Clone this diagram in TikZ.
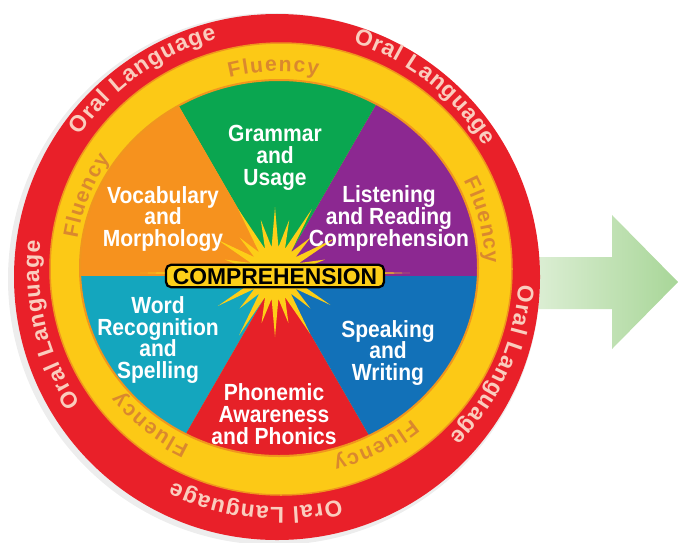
\documentclass[tikz,border=0pt]{standalone}
\usepackage{fontspec}
\setmainfont{Liberation Sans}
\newfontfamily\narrowsans{Liberation Sans}[FakeStretch=0.9]
\usetikzlibrary{decorations.text}

\definecolor{ringred}{RGB}{233,32,41}
\definecolor{ringyellow}{RGB}{252,201,22}
\definecolor{rimorange}{RGB}{240,150,30}
\definecolor{oralpink}{RGB}{250,205,190}
\definecolor{fluencytan}{RGB}{218,136,46}
\definecolor{segpurple}{RGB}{140,40,145}
\definecolor{seggreen}{RGB}{10,166,80}
\definecolor{segorange}{RGB}{246,146,30}
\definecolor{segteal}{RGB}{20,166,190}
\definecolor{segred}{RGB}{230,33,40}
\definecolor{segblue}{RGB}{18,113,184}
\definecolor{burst}{RGB}{253,206,24}
\definecolor{arrowpale}{RGB}{222,239,214}
\definecolor{arrowgreen}{RGB}{168,214,152}

\newcommand\oraltext[1]{\path[decorate, decoration={text along path, text align=fit to path, text color=oralpink, text={|\bfseries\fontsize{13}{13}\selectfont|Oral Language}}] ([shift={(#1+20.5:240 and 238)}]ringmid) arc[start angle=#1+20.5, end angle=#1-20.5, x radius=240, y radius=238];}
\newcommand\fluencytext[1]{\path[decorate, decoration={text along path, text align=fit to path, text color=fluencytan, text={|\bfseries\fontsize{12}{12}\selectfont|Fluency}}] ([shift={(#1+12.5:205 and 197)}]fluencymid) arc[start angle=#1+12.5, end angle=#1-12.5, x radius=205, y radius=197];}

\begin{document}
\begin{tikzpicture}[x=0.02cm, y=0.02cm,
    seglabel/.style={text=white, align=center, inner sep=0pt, font=\narrowsans\bfseries\fontsize{13.3}{12.5}\selectfont},
    corebox/.style={fill=burst, draw=black, line width=1.3pt, rounded corners=3pt, minimum width=4.36cm, minimum height=0.45cm, inner sep=0pt, text height=9.3pt, text depth=0pt, font=\bfseries\fontsize{13}{13}\selectfont}]
		%%%%% START %%%%%
		\useasboundingbox (0,0) rectangle (678,542);
		
		\coordinate (hub) at (277,266);
		\coordinate (ringmid) at (279,273);
		\coordinate (fluencymid) at (280,273.5);
		\coordinate (burstc) at (275,269);
		
		% arrow behind the wheel
		\shade[left color=arrowpale, right color=arrowgreen] (530,285) -- (612,285) -- (612,327) -- (678,260) -- (612,193) -- (612,233) -- (530,233) -- cycle;
		
		% rings
		\fill[black!7] (274,263) circle (266);
		\fill[ringred] (277,265) circle (263);
		\draw[fill=ringyellow, draw=rimorange, line width=0.3mm] (281,273) ellipse [x radius=231, y radius=226];
		
		% six segments
		\begin{scope}
			\clip (279,274) ellipse [x radius=199, y radius=188];
			\foreach \a/\c in {0/segpurple, 60/seggreen, 120/segorange, 180/segteal, 240/segred, 300/segblue}
				\fill[\c] (hub) -- +(\a:400) -- +(\a+60:400) -- cycle;
		\end{scope}
		\draw[rimorange, line width=0.4mm] (279,274) ellipse [x radius=199, y radius=188];
		
		% burst
		\fill[burst, shift={(burstc)}] (0:135) \foreach \a/\r in {15/52, 30/70, 45/50, 60/74, 75/55, 90/66, 105/55, 120/74, 135/50, 150/66, 165/52, 180/135, 195/52, 210/66, 225/50, 240/72, 255/52, 270/64, 285/52, 300/70, 315/50, 330/64, 345/52} { -- (\a-7.5:26) -- (\a:\r) } -- (352.5:26) -- cycle;
		
		\node[corebox] (core) at (275,266) {COMPREHENSION};
		
		\node[seglabel] (grammar) at (275,384) {Grammar\\and\\Usage};
		\node[seglabel] (vocab) at (163,323) {Vocabulary\\and\\Morphology};
		\node[seglabel] (listen) at (389,324) {Listening\\and Reading\\Comprehension};
		\node[seglabel] (word) at (158,202) {Word\\Recognition\\and\\Spelling};
		\node[seglabel] (speak) at (388,189) {Speaking\\and\\Writing};
		\node[seglabel] (phonemic) at (274,128) {Phonemic\\Awareness\\and Phonics};
		
		% ring texts
		\oraltext{125.5}
		\oraltext{51.5}
		\oraltext{-24.3}
		\oraltext{-95.7}
		\oraltext{-166.2}
		
		\fluencytext{91.8}
		\fluencytext{14}
		\fluencytext{-62.5}
		\fluencytext{-128.7}
		\fluencytext{158.6}
		%%%%% END %%%%%
\end{tikzpicture}
\end{document}
